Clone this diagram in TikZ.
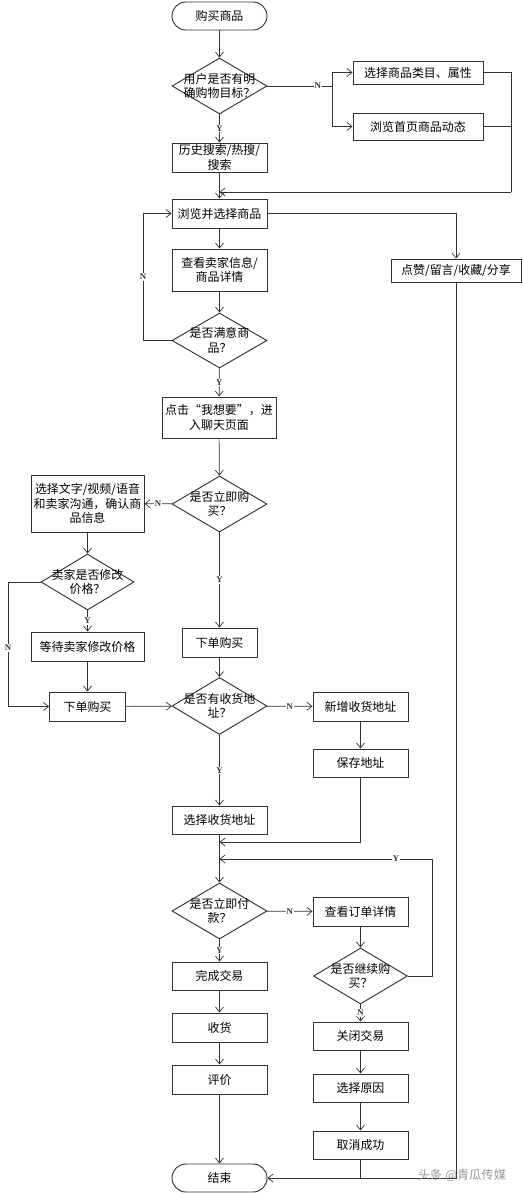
\documentclass[tikz,border=0pt]{standalone}
\usepackage{fontspec}
\usepackage{xcolor}
\usepackage{tikz}
\usetikzlibrary{arrows.meta,shapes.geometric,positioning}
\newfontfamily\cjk{Noto Sans CJK SC}
\newfontfamily\ynf{Liberation Serif}
\definecolor{ink}{HTML}{333333}
\definecolor{wmark}{HTML}{9A9A9A}
\tikzset{
  base/.style={draw=ink, line width=0.6pt},
  flow/.style={base, -{Straight Barb[length=1.5mm, width=2.4mm]}},
  box/.style={draw=ink, line width=0.8pt, minimum width=2.85cm, minimum height=0.87cm, inner sep=1pt, align=center, font=\cjk\fontsize{10.2}{12.2}\selectfont},
  term/.style={box, rounded corners=0.42cm, minimum height=0.84cm},
  dec/.style={diamond, draw=ink, line width=0.8pt, minimum width=2.85cm, minimum height=1.68cm, inner sep=0pt},
  dtxt/.style={align=center, inner sep=0pt, font=\cjk\fontsize{10.2}{12.2}\selectfont},
  yn/.style={fill=white, inner sep=0.6pt, text=ink, font=\ynf\bfseries\fontsize{7.5}{7.5}\selectfont},
  wm/.style={text=wmark, font=\cjk\fontsize{10.5}{12}\selectfont},
}
\begin{document}
\begin{tikzpicture}[x=0.03cm, y=-0.03cm]
\fill[white] (0,0) rectangle (522,1194);
\useasboundingbox (0,0) rectangle (522,1194);
\node[term] (start) at (219.5,16) {购买商品};
\node[dec, label={[dtxt]center:{用户是否有明\\确购物目标？}}] (q1) at (219.5,86) {};
\node[box, minimum width=3.9cm, minimum height=0.69cm] (cat) at (418,72.5) {选择商品类目、属性};
\node[box, minimum width=3.9cm, minimum height=0.81cm] (home) at (418,126.5) {浏览首页商品动态};
\node[box] (hist) at (219.5,157.5) {历史搜索/热搜/\\搜索};
\node[box] (browse) at (219.5,213.5) {浏览并选择商品};
\node[box, minimum width=3.9cm, minimum height=0.69cm] (like) at (456,270.5) {点赞/留言/收藏/分享};
\node[box, minimum height=1.26cm] (info) at (219.5,270) {查看卖家信息/\\商品详情};
\node[dec, minimum height=1.65cm, label={[dtxt]center:{是否满意商\\品？}}] (q2) at (219.5,340.5) {};
\node[box, minimum width=3.42cm, minimum height=1.23cm] (want) at (219,417.5) {点击“我想要”，进\\入聊天页面};
\node[dec, label={[dtxt]center:{是否立即购\\买？}}] (q3) at (219.5,504) {};
\node[box, minimum width=3.39cm, minimum height=1.71cm] (chat) at (87.5,503.5) {选择文字/视频/语音\\和卖家沟通，确认商\\品信息};
\node[dec, minimum width=2.79cm, label={[dtxt]center:{卖家是否修改\\价格？}}] (q4) at (87.5,582) {};
\node[box, minimum width=3.39cm] (wait) at (87.5,646.5) {等待卖家修改价格};
\node[box, minimum width=2.25cm] (order) at (219.5,642.5) {下单购买};
\node[box, minimum width=2.28cm] (order2) at (87.5,706.5) {下单购买};
\node[dec, minimum height=1.71cm, label={[dtxt]center:{是否有收货地\\址？}}] (q5) at (219.5,706) {};
\node[box] (newaddr) at (360.5,706.5) {新增收货地址};
\node[box, minimum height=0.84cm] (save) at (360.5,763) {保存地址};
\node[box, minimum height=0.84cm] (pick) at (219.5,820) {选择收货地址};
\node[dec, label={[dtxt]center:{是否立即付\\款？}}] (q6) at (219.5,911) {};
\node[box] (detail) at (360.5,911.5) {查看订单详情};
\node[box, minimum height=0.84cm] (done) at (219.5,976) {完成交易};
\node[dec, minimum width=2.82cm, label={[dtxt]center:{是否继续购\\买？}}] (q7) at (360.5,976) {};
\node[box, minimum height=0.84cm] (close) at (360.5,1036) {关闭交易};
\node[box] (recv) at (219.5,1027.5) {收货};
\node[box] (rate) at (219.5,1079.5) {评价};
\node[box, minimum height=0.84cm] (reason) at (360.5,1088) {选择原因};
\node[box, minimum height=0.84cm] (cancel) at (360.5,1145) {取消成功};
\node[term] (end) at (219.5,1178) {结束};
\coordinate (split) at (332,86);
\coordinate (rjoin) at (511,192);
\coordinate (mjoin) at (219.5,192);
\coordinate (lloop) at (143,340.5);
\coordinate (pleft) at (8,582);
\coordinate (ajoin) at (219.5,842);
\coordinate (yjoin) at (219.5,859);
\coordinate (yright) at (432,976);
\coordinate (cjoin) at (360.5,1178);
\draw[flow] (start) -- (q1);
\draw[base] (q1.east) -- node[yn, pos=0.78] (n1) {N} (split);
\draw[flow] (split) |- (cat.west);
\draw[flow] (split) |- (home.west);
\draw[flow] (q1) -- node[yn] (y1) {Y} (hist);
\draw[base] (cat.east) -| (rjoin);
\draw[base] (home.east) -- (home.east -| rjoin);
\draw[flow] (rjoin) -- (mjoin);
\draw[flow] (hist) -- (browse);
\draw[flow] (browse) -- (info);
\draw[flow] (info) -- (q2);
\draw[flow] (q2.west) -- (lloop) |- (browse.west);
\node[yn] (n2) at (143,277) {N};
\draw[flow] (browse.east) -| (like.north);
\draw[flow] (q2) -- node[yn] (y2) {Y} (want);
\draw[flow] (want) -- (q3);
\draw[flow] (q3) -- node[yn] (n3) {N} (chat);
\draw[flow] (q3) -- node[yn] (y3) {Y} (order);
\draw[flow] (chat) -- (q4);
\draw[flow] (q4) -- node[yn] (y4) {Y} (wait);
\draw[flow] (q4.west) -- (pleft) |- (order2.west);
\node[yn] (n4) at (8,648) {N};
\draw[flow] (wait) -- (order2);
\draw[flow] (order2) -- (q5);
\draw[flow] (order) -- (q5);
\draw[flow] (q5) -- node[yn] (n5) {N} (newaddr);
\draw[flow] (q5) -- node[yn] (y5) {Y} (pick);
\draw[flow] (newaddr) -- (save);
\draw[flow] (save.south) |- (ajoin);
\draw[flow] (pick) -- (q6);
\draw[flow] (q6) -- node[yn] (n6) {N} (detail);
\draw[flow] (q6) -- node[yn] (y6) {Y} (done);
\draw[flow] (detail) -- (q7);
\draw[flow] (q7.east) -- (yright) |- (yjoin);
\node[yn] (y7) at (396,859) {Y};
\draw[flow] (q7) -- node[yn] (n7) {N} (close);
\draw[flow] (done) -- (recv);
\draw[flow] (recv) -- (rate);
\draw[flow] (rate) -- (end);
\draw[flow] (close) -- (reason);
\draw[flow] (reason) -- (cancel);
\draw[base] (cancel) -- (cjoin);
\draw[flow] (like.south) |- (end.east);
\node[wm] (mark) at (462,1175) {头条 @青瓜传媒};
\end{tikzpicture}
\end{document}
